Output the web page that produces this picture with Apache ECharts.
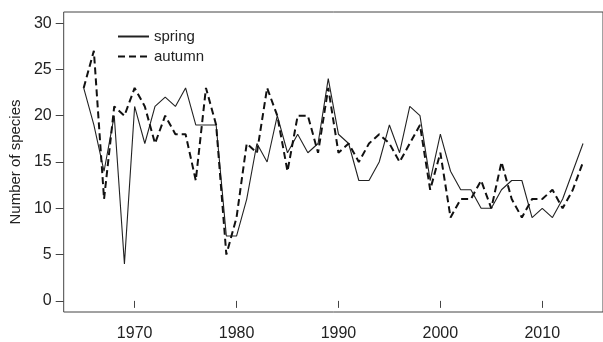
<!DOCTYPE html>
<html>
<head>
<meta charset="utf-8">
<script src="https://cdn.jsdelivr.net/npm/echarts@6/dist/echarts.min.js"></script>
<style>
  html, body { margin: 0; padding: 0; background: #fff; }
  #chart { width: 603px; height: 342px; }
</style>
</head>
<body>
<div id="chart"></div>
<script>
// years 1965..2014
const years = [];
for (let y = 1965; y <= 2014; y++) years.push(y);

const spring = [23, 19, 14, 20, 4, 21, 17, 21, 22, 21,
                23, 19, 19, 19, 7, 7, 11, 17, 15, 20,
                16, 18, 16, 17, 24, 18, 17, 13, 13, 15,
                19, 16, 21, 20, 13, 18, 14, 12, 12, 10,
                10, 12, 13, 13, 9, 10, 9, 11, 14, 17];

const autumn = [23, 27, 11, 21, 20, 23, 21, 17, 20, 18,
                18, 13, 23, 19, 5, 9, 17, 16, 23, 20,
                14, 20, 20, 16, 23, 16, 17, 15, 17, 18,
                17, 15, 17, 19, 12, 16, 9, 11, 11, 13,
                10, 15, 11, 9, 11, 11, 12, 10, 12, 15];

const xTicks = [1970, 1980, 1990, 2000, 2010];
const yTicks = [0, 5, 10, 15, 20, 25, 30];

function pairs(vals) {
    return years.map(function (y, i) { return [y, vals[i]]; });
}

const chart = echarts.init(document.getElementById('chart'));
chart.setOption({
    animation: false,
    backgroundColor: '#fff',
    grid: {
        left: 61,
        right: -5,
        top: 12,
        bottom: 30,
        show: true,
        borderColor: '#444',
        borderWidth: 1
    },
    legend: {
        orient: 'vertical',
        left: 112,
        top: 24,
        itemWidth: 31,
        itemHeight: 14,
        itemGap: 5,
        itemStyle: { opacity: 0 },
        textStyle: { fontFamily: 'Liberation Sans, Arial', fontSize: 15, color: '#222' },
        data: ['spring', 'autumn']
    },
    xAxis: {
        type: 'value',
        min: 1963.04,
        max: 2015.96,
        splitLine: { show: false },
        axisLine: { show: false },
        axisTick: {
            show: true, length: 7, inside: false,
            customValues: xTicks,
            lineStyle: { color: '#444' }
        },
        axisLabel: {
            customValues: xTicks,
            formatter: function (v) { return String(v); },
            margin: 14,
            fontFamily: 'Liberation Sans, Arial',
            fontSize: 16,
            color: '#222'
        }
    },
    yAxis: {
        type: 'value',
        min: -1.2,
        max: 31.2,
        name: 'Number of species',
        nameLocation: 'middle',
        nameGap: 37,
        nameTextStyle: { fontFamily: 'Liberation Sans, Arial', fontSize: 15, color: '#222' },
        splitLine: { show: false },
        axisLine: { show: false },
        axisTick: {
            show: true, length: 8, inside: false,
            customValues: yTicks,
            lineStyle: { color: '#444' }
        },
        axisLabel: {
            customValues: yTicks,
            margin: 12,
            fontFamily: 'Liberation Sans, Arial',
            fontSize: 16,
            color: '#222'
        }
    },
    series: [
        {
            name: 'spring',
            type: 'line',
            data: pairs(spring),
            showSymbol: false,
            symbol: 'none',
            lineStyle: { color: '#222', width: 1.1, type: 'solid' },
            itemStyle: { color: '#222' }
        },
        {
            name: 'autumn',
            type: 'line',
            data: pairs(autumn),
            showSymbol: false,
            symbol: 'none',
            lineStyle: { color: '#111', width: 2, type: [7, 4] },
            itemStyle: { color: '#111' }
        }
    ]
});
</script>
</body>
</html>
